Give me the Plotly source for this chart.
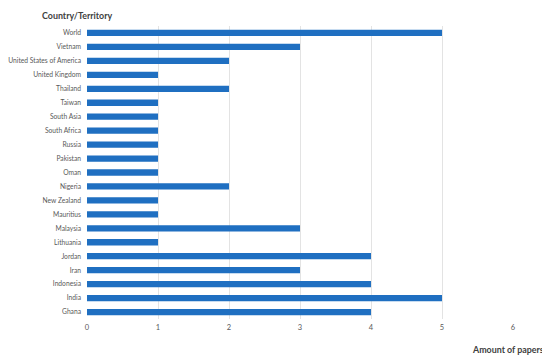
import plotly.graph_objects as go

countries = ["Ghana", "India", "Indonesia", "Iran", "Jordan", "Lithuania", "Malaysia",
             "Mauritius", "New Zealand", "Nigeria", "Oman", "Pakistan", "Russia",
             "South Africa", "South Asia", "Taiwan", "Thailand", "United Kingdom",
             "United States of America", "Vietnam", "World"]
papers = [4, 5, 4, 3, 4, 1, 3, 1, 1, 2, 1, 1, 1, 1, 1, 1, 2, 1, 2, 3, 5]
x_ticks = [0, 1, 2, 3, 4, 5, 6]

fig = go.Figure(go.Bar(
    y=countries, x=papers, orientation="h",
    marker=dict(color="#1f6fc1", line=dict(width=0)),
    width=0.45,
))

font_family = "Lato, 'Open Sans', sans-serif"
# page body adds an 8px offset, so the figure is 8px smaller than the window
fig.update_layout(
    width=542, height=350,
    margin=dict(l=79, r=37, t=18, b=39, autoexpand=False),
    plot_bgcolor="white", paper_bgcolor="white",
    showlegend=False,
    font=dict(family=font_family, size=6.7, color="#595959"),
    xaxis=dict(range=[0, 6], tickvals=x_ticks, showgrid=True, gridcolor="#e3e3e3",
               gridwidth=1, zeroline=False, showline=False, ticks="",
               automargin=False, ticklabelstandoff=2,
               tickfont=dict(size=7.5, color="#595959"), fixedrange=True),
    yaxis=dict(categoryorder="array", categoryarray=countries, showgrid=False,
               ticks="", ticklabelstandoff=5, automargin=False,
               tickfont=dict(size=6.7, color="#595959"),
               showline=False, zeroline=False),
    annotations=[
        dict(text="<b>Country/Territory</b>", xref="paper", yref="paper",
             x=0, xshift=-47, y=1.0, yshift=18, xanchor="left", yanchor="top",
             showarrow=False, font=dict(size=8.9, color="#404040", family=font_family)),
        dict(text="<b>Amount of papers</b>", xref="paper", yref="paper",
             x=1.0, xshift=33, y=0, yshift=-30, xanchor="right", yanchor="middle",
             showarrow=False, font=dict(size=8.9, color="#404040", family=font_family)),
    ],
)

fig.write_html("out.html")
